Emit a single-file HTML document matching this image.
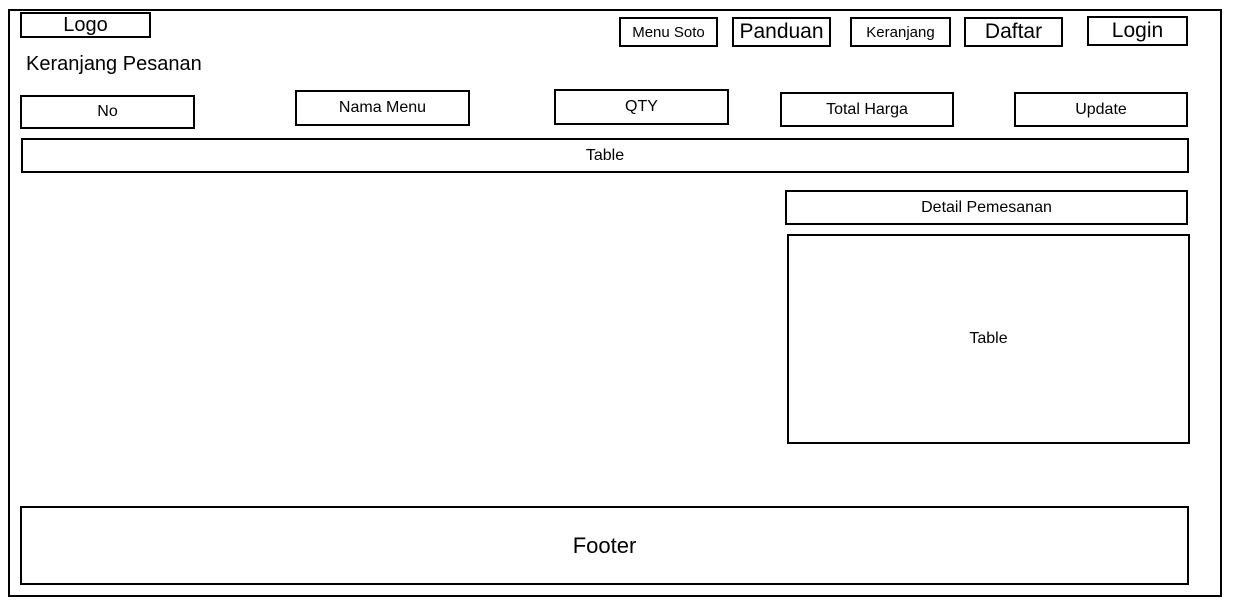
<!DOCTYPE html>
<html><head><style>
body{margin:0;width:1251px;height:603px;background:#fff;position:relative;overflow:hidden;font-family:"Liberation Sans",Arial,sans-serif;}
.b{position:absolute;border:2px solid #000;box-sizing:border-box;display:flex;align-items:center;justify-content:center;color:#000;font-size:16px;background:#fff;}
.t{position:absolute;color:#000;}
</style></head><body>
<div class="b" style="left:8px;top:9px;width:1214px;height:588px;"></div>
<div class="b" style="left:20px;top:12px;width:131px;height:26px;font-size:20px;align-items:flex-start;line-height:22px;">Logo</div>
<div class="b" style="left:619px;top:17px;width:99px;height:30px;font-size:15px;">Menu Soto</div>
<div class="b" style="left:732px;top:17px;width:99px;height:30px;font-size:21px;">Panduan</div>
<div class="b" style="left:850px;top:17px;width:101px;height:30px;font-size:15px;">Keranjang</div>
<div class="b" style="left:964px;top:17px;width:99px;height:30px;font-size:21px;">Daftar</div>
<div class="b" style="left:1087px;top:16px;width:101px;height:30px;font-size:21px;">Login</div>
<div class="t" style="left:26px;top:53px;font-size:20px;">Keranjang Pesanan</div>
<div class="b" style="left:20px;top:95px;width:175px;height:34px;">No</div>
<div class="b" style="left:295px;top:90px;width:175px;height:36px;align-items:flex-start;padding-top:7px;">Nama Menu</div>
<div class="b" style="left:554px;top:89px;width:175px;height:36px;align-items:flex-start;padding-top:7px;">QTY</div>
<div class="b" style="left:780px;top:92px;width:174px;height:35px;">Total Harga</div>
<div class="b" style="left:1014px;top:92px;width:174px;height:35px;">Update</div>
<div class="b" style="left:21px;top:138px;width:1168px;height:35px;">Table</div>
<div class="b" style="left:785px;top:190px;width:403px;height:35px;">Detail Pemesanan</div>
<div class="b" style="left:787px;top:234px;width:403px;height:210px;">Table</div>
<div class="b" style="left:20px;top:506px;width:1169px;height:79px;font-size:22px;">Footer</div>
</body></html>
